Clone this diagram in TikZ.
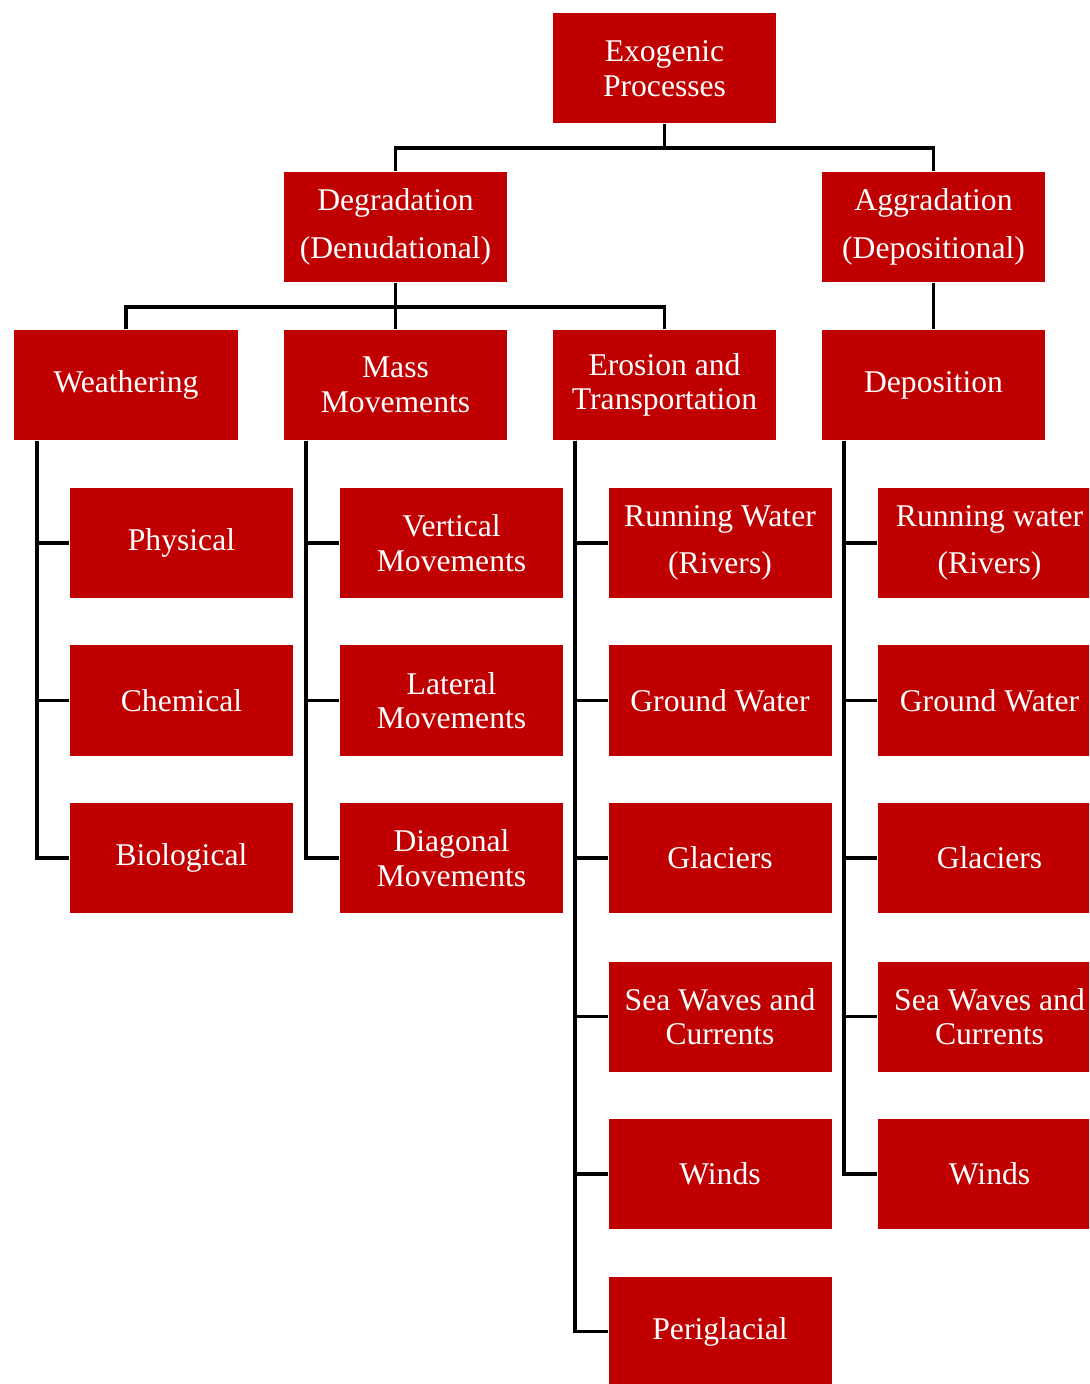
\documentclass[tikz,border=0pt]{standalone}
\usepackage{fontspec}
\setmainfont{Liberation Serif}
\usetikzlibrary{positioning}
\definecolor{boxred}{HTML}{C00000}
\tikzset{
	box/.style={rectangle, fill=boxred, text=white, minimum width=2.23cm, minimum height=1.1cm,
		inner sep=0pt, align=center, font=\fontsize{9}{9.8}\selectfont},
	link/.style={line width=1.1pt, black}
}
\begin{document}
\begin{tikzpicture}
		\useasboundingbox (0,0) rectangle (10.89,-13.84);
		\clip (0,0) rectangle (10.89,-13.84);
		% top levels
		\node[box] (root) at (6.645,-0.685) {Exogenic\\Processes};
		\node[box] (degr) at (3.955,-2.27) {Degradation\\[0.9ex](Denudational)};
		\node[box] (aggr) at (9.335,-2.27) {Aggradation\\[0.9ex](Depositional)};
		\node[box] (weath) at (1.26,-3.85) {Weathering};
		\node[box] (mass) at (3.955,-3.85) {Mass\\Movements};
		\node[box] (eros) at (6.645,-3.85) {Erosion and\\Transportation};
		\node[box] (depo) at (9.335,-3.85) {Deposition};
		% weathering
		\node[box] (phys) at (1.815,-5.43) {Physical};
		\node[box] (chem) at (1.815,-7.005) {Chemical};
		\node[box] (biol) at (1.815,-8.58) {Biological};
		% mass movements
		\node[box] (vert) at (4.515,-5.43) {Vertical\\Movements};
		\node[box] (late) at (4.515,-7.005) {Lateral\\Movements};
		\node[box] (diag) at (4.515,-8.58) {Diagonal\\Movements};
		% erosion and transportation
		\node[box] (eriv) at (7.2,-5.43) {Running Water\\[0.9ex](Rivers)};
		\node[box] (egrw) at (7.2,-7.005) {Ground Water};
		\node[box] (egla) at (7.2,-8.58) {Glaciers};
		\node[box] (esea) at (7.2,-10.165) {Sea Waves and\\Currents};
		\node[box] (ewin) at (7.2,-11.74) {Winds};
		\node[box] (eper) at (7.2,-13.315) {Periglacial};
		% deposition
		\node[box] (driv) at (9.895,-5.43) {Running water\\[0.9ex](Rivers)};
		\node[box] (dgrw) at (9.895,-7.005) {Ground Water};
		\node[box] (dgla) at (9.895,-8.58) {Glaciers};
		\node[box] (dsea) at (9.895,-10.165) {Sea Waves and\\Currents};
		\node[box] (dwin) at (9.895,-11.74) {Winds};
		% connectors
		\draw[link] (root.south) -- ++(0,-0.24) -| (degr.north);
		\draw[link] (root.south) -- ++(0,-0.24) -| (aggr.north);
		\draw[link] (degr.south) -- ++(0,-0.24) -| (weath.north);
		\draw[link] (degr.south) -- (mass.north);
		\draw[link] (degr.south) -- ++(0,-0.24) -| (eros.north);
		\draw[link] (aggr.south) -- (depo.north);
		\draw[link] ([xshift=0.23cm]weath.south west) |- (phys.west);
		\draw[link] ([xshift=0.23cm]weath.south west) |- (chem.west);
		\draw[link] ([xshift=0.23cm]weath.south west) |- (biol.west);
		\draw[link] ([xshift=0.23cm]mass.south west) |- (vert.west);
		\draw[link] ([xshift=0.23cm]mass.south west) |- (late.west);
		\draw[link] ([xshift=0.23cm]mass.south west) |- (diag.west);
		\draw[link] ([xshift=0.23cm]eros.south west) |- (eriv.west);
		\draw[link] ([xshift=0.23cm]eros.south west) |- (egrw.west);
		\draw[link] ([xshift=0.23cm]eros.south west) |- (egla.west);
		\draw[link] ([xshift=0.23cm]eros.south west) |- (esea.west);
		\draw[link] ([xshift=0.23cm]eros.south west) |- (ewin.west);
		\draw[link] ([xshift=0.23cm]eros.south west) |- (eper.west);
		\draw[link] ([xshift=0.23cm]depo.south west) |- (driv.west);
		\draw[link] ([xshift=0.23cm]depo.south west) |- (dgrw.west);
		\draw[link] ([xshift=0.23cm]depo.south west) |- (dgla.west);
		\draw[link] ([xshift=0.23cm]depo.south west) |- (dsea.west);
		\draw[link] ([xshift=0.23cm]depo.south west) |- (dwin.west);
	\end{tikzpicture}
\end{document}
